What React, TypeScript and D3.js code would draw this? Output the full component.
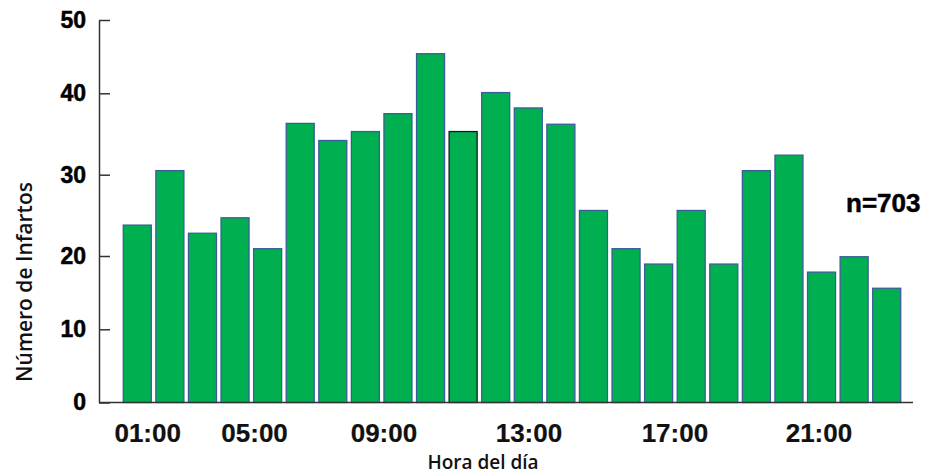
import * as d3 from 'd3';
import { useEffect, useRef } from 'react';

// hour slots 0..23, one bar each
const hours = d3.range(24).map((h) => `${String(h).padStart(2, '0')}:00`);

const infartos = [
  23.8, 30.5, 22.8, 24.7, 20.9, 36.3, 34.2, 35.3, 37.5, 45.4, 35.3, 40.1,
  38.2, 36.2, 25.6, 20.9, 18.9, 25.6, 18.9, 30.5, 32.4, 17.8, 19.9, 15.6,
];

// the 11:00 bar has a black outline in the original
const highlighted = ['10:00'];

const yTicks = [0, 10, 20, 30, 40, 50];
// tick marks as they sit on the original axis (slightly uneven spacing)
const yTickPixels = [402.5, 329.3, 256, 174.7, 93.3, 20];

const xTickLabels = ['01:00', '05:00', '09:00', '13:00', '17:00', '21:00'];
// where each label sits, in hours from the left edge of the first bar
const xTickHours = [0.82, 4.1, 8.07, 12.52, 17.0, 21.42];

const W = 926;
const H = 476;

function App() {
  const svgRef = useRef<SVGSVGElement>(null);

  useEffect(() => {
    const svg = d3.select(svgRef.current);
    svg.selectAll('*').remove();

    const axisX = 99;
    const baseY = 402.5;

    const y = d3.scaleLinear().domain(yTicks).range(yTickPixels);

    const x = d3
      .scaleBand()
      .domain(hours)
      .range([121, 903])
      .paddingInner(0.14)
      .paddingOuter(0.07);

    const hourX = d3.scaleLinear().domain([0, 24]).range([121, 903]);

    // bars
    svg
      .append('g')
      .selectAll('rect')
      .data(infartos)
      .enter()
      .append('rect')
      .attr('x', (_d, i) => x(hours[i]) as number)
      .attr('width', x.bandwidth())
      .attr('y', (d) => y(d))
      .attr('height', (d) => baseY - y(d))
      .attr('fill', '#00B050')
      .attr('stroke', (_d, i) =>
        highlighted.includes(hours[i]) ? '#1a1a1a' : '#3B5C99'
      )
      .attr('stroke-width', 1.3);

    // y axis, ticks pointing inward
    const yAxis = svg
      .append('g')
      .attr('transform', `translate(${axisX},0)`)
      .call(
        d3
          .axisLeft(y)
          .tickValues(yTicks)
          .tickSizeInner(-11)
          .tickSizeOuter(0)
          .tickPadding(13)
          .tickFormat((d) => `${d}`)
      );
    yAxis.selectAll('path, line').attr('stroke', '#333').attr('stroke-width', 1.5);
    yAxis
      .selectAll('text')
      .attr('fill', '#000')
      .attr('stroke', '#000')
      .attr('stroke-width', 0.5)
      .style('font-family', '"Liberation Sans", Arial, sans-serif')
      .style('font-weight', 'bold')
      .style('font-size', '23px');

    // x axis baseline
    svg
      .append('line')
      .attr('x1', axisX)
      .attr('x2', 913)
      .attr('y1', baseY)
      .attr('y2', baseY)
      .attr('stroke', '#333')
      .attr('stroke-width', 1.5);

    // x tick labels
    svg
      .append('g')
      .selectAll('text')
      .data(xTickLabels)
      .enter()
      .append('text')
      .attr('x', (_d, i) => hourX(xTickHours[i]))
      .attr('y', 441.5)
      .attr('text-anchor', 'middle')
      .attr('fill', '#111')
      .attr('stroke', '#111')
      .attr('stroke-width', 0.2)
      .style('font-family', '"Liberation Sans", Arial, sans-serif')
      .style('font-weight', 'bold')
      .style('font-size', '26px')
      .text((d) => d);

    // axis titles
    svg
      .append('text')
      .attr('transform', 'translate(32,282) rotate(-90)')
      .attr('text-anchor', 'middle')
      .attr('fill', '#111')
      .style('font-family', '"Open Sans", sans-serif')
      .style('font-weight', 600)
      .style('font-size', '21px')
      .text('Número de Infartos');

    svg
      .append('text')
      .attr('x', 483)
      .attr('y', 469)
      .attr('text-anchor', 'middle')
      .attr('fill', '#111')
      .style('font-family', '"Open Sans", sans-serif')
      .style('font-weight', 600)
      .style('font-size', '19px')
      .text('Hora del día');

    // sample size
    svg
      .append('text')
      .attr('x', 846)
      .attr('y', 212)
      .attr('fill', '#000')
      .attr('stroke', '#000')
      .attr('stroke-width', 0.5)
      .style('font-family', '"Liberation Sans", Arial, sans-serif')
      .style('font-weight', 'bold')
      .style('font-size', '26px')
      .text('n=703');
  }, []);

  return (
    <svg
      ref={svgRef}
      width={W}
      height={H}
      style={{ position: 'absolute', left: 0, top: 0, background: '#fff' }}
    />
  );
}

export default App;
